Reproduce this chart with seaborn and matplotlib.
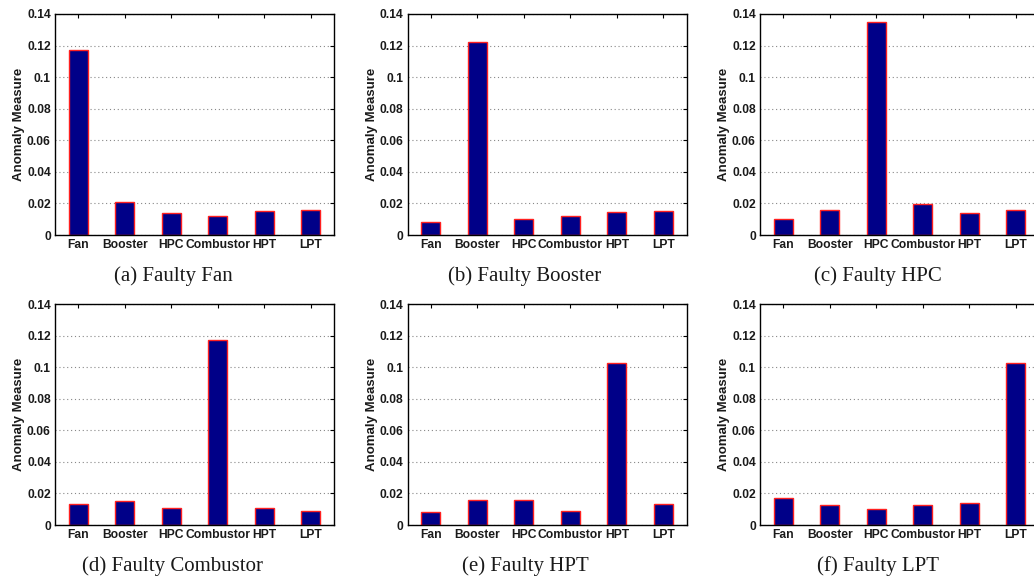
import matplotlib
matplotlib.use("Agg")
import matplotlib.pyplot as plt
import seaborn as sns
import pandas as pd
from matplotlib.ticker import FuncFormatter

components = ["Fan", "Booster", "HPC", "Combustor", "HPT", "LPT"]

faulty_fan = [0.1172, 0.0208, 0.0139, 0.0118, 0.0154, 0.0158]
faulty_booster = [0.0084, 0.1222, 0.0099, 0.0122, 0.0147, 0.0149]
faulty_hpc = [0.0099, 0.0156, 0.1350, 0.0198, 0.0139, 0.0158]
faulty_combustor = [0.0131, 0.0149, 0.0109, 0.1175, 0.0109, 0.0086]
faulty_hpt = [0.0080, 0.0156, 0.0156, 0.0088, 0.1027, 0.0131]
faulty_lpt = [0.0171, 0.0128, 0.0103, 0.0128, 0.0137, 0.1029]

captions = ["(a) Faulty Fan", "(b) Faulty Booster", "(c) Faulty HPC",
            "(d) Faulty Combustor", "(e) Faulty HPT", "(f) Faulty LPT"]
series = [faulty_fan, faulty_booster, faulty_hpc,
          faulty_combustor, faulty_hpt, faulty_lpt]

sns.set_theme(style="white")
plt.rcParams["font.family"] = ["Liberation Sans", "DejaVu Sans"]

W, H = 1034, 578
fig = plt.figure(figsize=(W / 100, H / 100), dpi=100)

lefts = [55, 407.7, 760]
tops = [14, 304]
aw, ah = 279, 221
cap_x = [173, 525, 878]
cap_y = [276, 566]

for i, (vals, cap) in enumerate(zip(series, captions)):
    r, c = divmod(i, 3)
    l = lefts[c]
    t = tops[r]
    ax = fig.add_axes([l / W, 1 - (t + ah) / H, aw / W, ah / H])
    df = pd.DataFrame({"component": components, "value": vals})
    sns.barplot(data=df, x="component", y="value", ax=ax, width=0.41,
                color="#000088", saturation=1, edgecolor="#ff2020",
                linewidth=1.0)
    ax.set_ylim(0, 0.14)
    ax.set_xlim(-0.5, 5.5)
    ax.set_yticks([0, 0.02, 0.04, 0.06, 0.08, 0.1, 0.12, 0.14])
    ax.yaxis.set_major_formatter(FuncFormatter(lambda v, p: "%g" % round(v, 2)))
    ax.yaxis.grid(True, linestyle=(0, (1, 2.5)), color="#888888", linewidth=0.8)
    ax.set_axisbelow(True)
    ax.tick_params(direction="in", top=True, right=True, length=3,
                   width=0.8, color="black", labelsize=8.7, pad=3)
    for lab in ax.get_xticklabels() + ax.get_yticklabels():
        lab.set_fontweight("bold")
        lab.set_color("#1a1a1a")
    for s in ax.spines.values():
        s.set_color("black")
        s.set_linewidth(1.0)
    ax.set_xlabel("")
    ax.set_ylabel("Anomaly Measure", fontsize=9.5, fontweight="bold",
                  color="#1a1a1a", labelpad=1.5)
    fig.text(cap_x[c] / W, 1 - cap_y[r] / H, cap, ha="center", va="center",
             fontsize=15, family=["Liberation Serif", "DejaVu Serif"],
             color="#1a1a1a")

fig.savefig("out.png", dpi=100)
